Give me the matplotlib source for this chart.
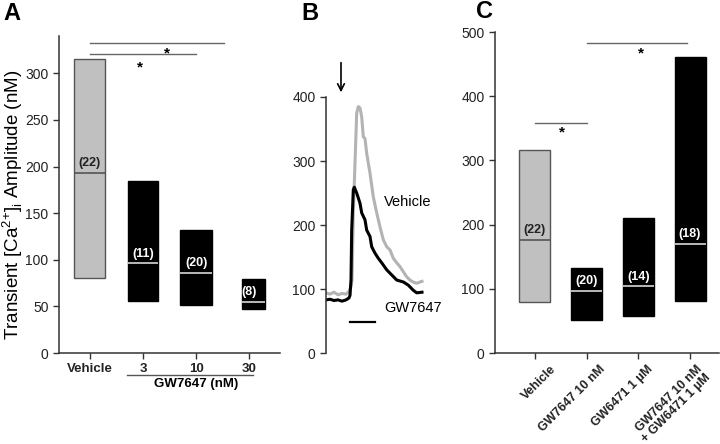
import matplotlib
matplotlib.use("Agg")
import matplotlib.pyplot as plt
import matplotlib.transforms as mtransforms
import numpy as np

plt.rcParams['font.family'] = ['Liberation Sans', 'DejaVu Sans']

# --- Panel A: GW7647 dose response (min / max / median) ---
a_labels = ['Vehicle', '3', '10', '30']
a_low = [80, 56, 52, 47]
a_high = [315, 185, 132, 79]
a_median = [193, 96, 86, 55]
a_n = ['(22)', '(11)', '(20)', '(8)']

# --- Panel B: example traces ---
t_vehicle = [0, 4, 8, 12, 16, 20, 23, 25, 26, 27.3, 29, 30.7, 32.3, 34, 35.7, 37.3, 39, 40.7,
             44, 47.3, 50.7, 54, 57.3, 60.7, 62, 64, 67.3, 70.7, 74, 77.3, 80.7, 84, 87, 90.7, 96]
ca_vehicle = [94, 92, 95, 91, 93, 92, 96, 104, 114, 219, 297, 375, 385, 383, 369, 338, 335, 312,
              281, 244, 219, 197, 177, 166, 164, 161, 148, 141, 135, 127, 119, 114, 111, 109, 112]
t_gw = [0, 4, 8, 12, 16, 20, 23, 24, 25, 25.7, 27.3, 28.3, 30.7, 34, 35.7, 39, 40.7, 44, 45.7,
        49, 52.3, 55.7, 60.7, 65.7, 70.7, 77.3, 82.3, 87.3, 90.7, 96]
ca_gw = [83, 84, 82, 83, 81, 83, 86, 90, 114, 192, 255, 259, 250, 234, 219, 208, 192, 182, 166,
         156, 148, 141, 130, 122, 114, 111, 106, 98, 94, 95]
stim_bar = (24, 49)
stim_arrow_t = 15

# --- Panel C: antagonist ---
c_labels = ['Vehicle', 'GW7647 10 nM', 'GW6471 1 \u00b5M', 'GW7647 10 nM\n+ GW6471 1 \u00b5M']
c_low = [80, 52, 57, 81]
c_high = [316, 133, 210, 461]
c_median = [176, 97, 104, 170]
c_n = ['(22)', '(20)', '(14)', '(18)']

GREY = '#c0c0c0'
SPINE = '#333333'


def style_axis(ax):
    for s in ['top', 'right']:
        ax.spines[s].set_visible(False)
    for s in ['left', 'bottom']:
        ax.spines[s].set_color(SPINE)
        ax.spines[s].set_linewidth(1.1)
    ax.tick_params(direction='out', length=4, width=1, colors=SPINE, labelcolor='#222222')


def floating_bars(ax, low, high, med, nlab, widths, shifts):
    x = np.arange(len(low))
    for i in range(len(low)):
        face = GREY if i == 0 else 'black'
        edge = '#555555' if i == 0 else 'black'
        mcol = '#555555' if i == 0 else '#d8d8d8'
        tcol = '#222222' if i == 0 else 'white'
        xc = x[i] + shifts[i]
        ax.bar(xc, high[i] - low[i], bottom=low[i], width=widths[i],
               color=face, edgecolor=edge, linewidth=1)
        ax.hlines(med[i], xc - widths[i] / 2, xc + widths[i] / 2, color=mcol, lw=1.2)
        ax.annotate(nlab[i], (x[i], med[i]), xytext=(0, 7), textcoords='offset points',
                    ha='center', va='center', fontsize=9, fontweight='bold', color=tcol)


fig = plt.figure(figsize=(7.2, 4.44), dpi=100)

# ---------------- A ----------------
axA = fig.add_axes([59 / 720, 91 / 444, 221 / 720, 317 / 444])
style_axis(axA)
floating_bars(axA, a_low, a_high, a_median, a_n,
              widths=[0.58, 0.58, 0.6, 0.42], shifts=[0, 0, 0, 0.08])
axA.set_xlim(-0.58, 3.58)
axA.set_ylim(0, 340)
axA.set_yticks([0, 50, 100, 150, 200, 250, 300])
axA.set_xticks(range(4))
axA.set_xticklabels(a_labels, fontweight='bold', fontsize=9.5)
axA.tick_params(axis='y', labelsize=10)
# significance
axA.plot([0, 2.53], [333, 333], color='#666666', lw=1, clip_on=False)
axA.plot([0, 2.0], [321, 321], color='#666666', lw=1, clip_on=False)
axA.text(1.45, 314, '*', ha='center', va='bottom', fontsize=11, fontweight='bold')
axA.text(0.94, 299, '*', ha='center', va='bottom', fontsize=11, fontweight='bold')
# group label
xt = axA.get_xaxis_transform()
axA.plot([0.70, 3.07], [-0.069, -0.069], color='#555555', lw=1, transform=xt, clip_on=False)
axA.text(2.0, -0.097, 'GW7647 (nM)', transform=xt, ha='center', va='center',
         fontsize=9.5, fontweight='bold')
fig.text(13 / 720, 1 - 205 / 444,
         r'Transient [Ca$^{\mathregular{2{+}}}$]$_{\mathregular{i}}$ Amplitude (nM)',
         rotation=90, ha='center', va='center', fontsize=13.5)

# ---------------- B ----------------
axB = fig.add_axes([326 / 720, 91 / 444, 100 / 720, 256 / 444])
style_axis(axB)
axB.spines['bottom'].set_visible(False)
axB.set_xticks([])
axB.plot(t_vehicle, ca_vehicle, color='#b3b3b3', lw=2.2)
axB.plot(t_gw, ca_gw, color='black', lw=2.2)
axB.set_xlim(0, 100)
axB.set_ylim(0, 400)
axB.set_yticks([0, 100, 200, 300, 400])
axB.tick_params(axis='y', labelsize=10)
axB.plot(stim_bar, [48, 48], color='black', lw=1.6)
axB.annotate('', xy=(stim_arrow_t, 403), xytext=(stim_arrow_t, 458),
             arrowprops=dict(arrowstyle='->', lw=1.2, color='black', mutation_scale=12),
             annotation_clip=False)
axB.text(58, 236, 'Vehicle', ha='left', va='center', fontsize=10.5, clip_on=False)
axB.text(58, 70, 'GW7647', ha='left', va='center', fontsize=10.5, clip_on=False)

# ---------------- C ----------------
axC = fig.add_axes([495 / 720, 91 / 444, 224 / 720, 321 / 444])
style_axis(axC)
floating_bars(axC, c_low, c_high, c_median, c_n,
              widths=[0.6, 0.6, 0.6, 0.6], shifts=[0, 0, 0, 0])
axC.set_xlim(-0.77, 3.56)
axC.set_ylim(0, 500)
axC.set_yticks([0, 100, 200, 300, 400, 500])
axC.tick_params(axis='y', labelsize=10)
axC.set_xticks(range(4))
axC.set_xticklabels(c_labels, rotation=45, ha='right', rotation_mode='anchor',
                    fontweight='bold', fontsize=9, linespacing=1.0)
label_dx = [0.15, 0.13, 0.09, 0.06]
for lab, dx in zip(axC.get_xticklabels(), label_dx):
    lab.set_transform(lab.get_transform() +
                      mtransforms.ScaledTranslation(dx, 0, fig.dpi_scale_trans))
axC.plot([0, 1.0], [358, 358], color='#666666', lw=1)
axC.text(0.52, 332, '*', ha='center', va='bottom', fontsize=11, fontweight='bold')
axC.plot([1.0, 2.94], [483, 483], color='#666666', lw=1)
axC.text(2.06, 456, '*', ha='center', va='bottom', fontsize=11, fontweight='bold')

# panel letters
fig.text(3 / 720, 1 - 2 / 444, 'A', ha='left', va='top', fontsize=17, fontweight='bold')
fig.text(301 / 720, 1 - 2 / 444, 'B', ha='left', va='top', fontsize=17, fontweight='bold')
fig.text(476 / 720, 1 + 0 / 444, 'C', ha='left', va='top', fontsize=17, fontweight='bold')

fig.savefig('out.png', dpi=100)
